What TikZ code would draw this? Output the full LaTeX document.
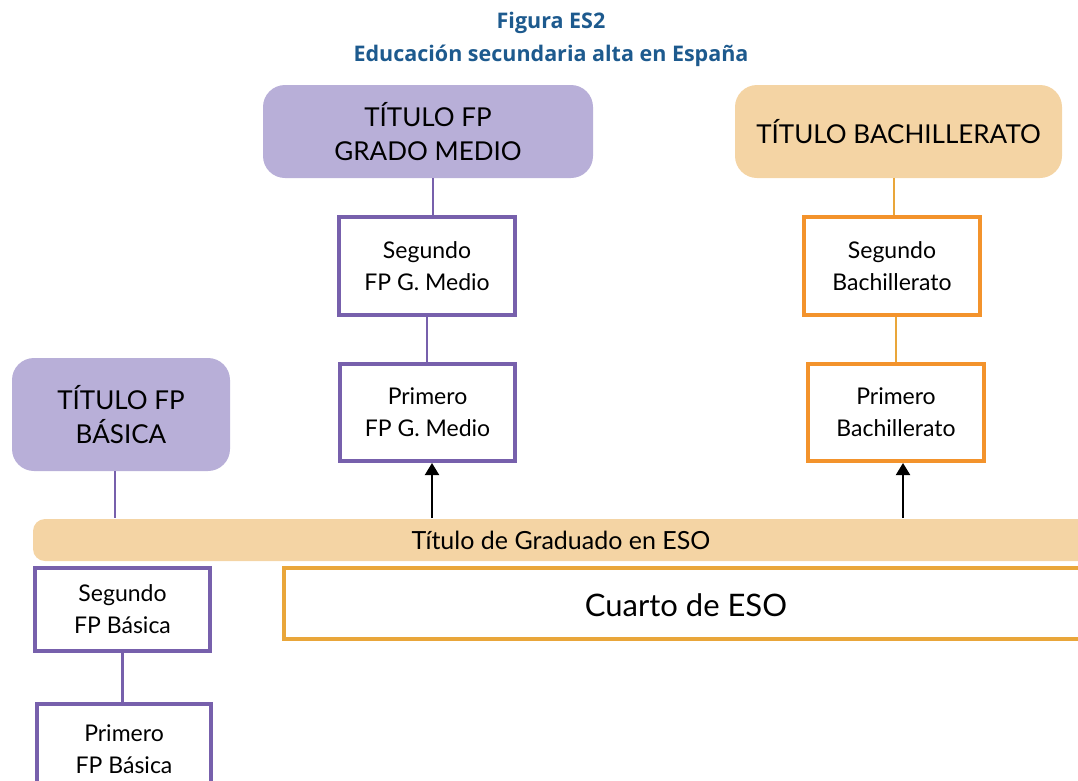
\documentclass[tikz,border=0pt]{standalone}
\usepackage{fontspec}
\setmainfont{Lato}
\newfontfamily\titlefont{Open Sans}
\usetikzlibrary{arrows.meta}
\definecolor{lav}{HTML}{B8AFD8}
\definecolor{purp}{HTML}{7760AC}
\definecolor{tan}{HTML}{F4D4A4}
\definecolor{orng}{HTML}{F3932C}
\definecolor{orng2}{HTML}{E9A63A}
\definecolor{ttlblue}{HTML}{1D5A8E}
\tikzset{
  x=1pt, y=-1pt,
  titlebox/.style={rounded corners=22pt, inner sep=0pt, align=center, font=\fontsize{26}{34}\selectfont},
  pbox/.style={draw=purp, line width=4pt, fill=white, inner sep=0pt, align=center, font=\fontsize{23}{32}\selectfont},
  obox/.style={draw=orng, line width=4pt, fill=white, inner sep=0pt, align=center, font=\fontsize{23}{32}\selectfont},
  pline/.style={draw=purp, line width=2.5pt},
  oline/.style={draw=orng2, line width=2pt},
  uparrow/.style={draw=black, line width=2pt, -{Triangle[length=12pt,width=14pt]}},
}
\begin{document}
\begin{tikzpicture}
\useasboundingbox (0,0) rectangle (1078,780);
\clip (0,0) rectangle (1078,780);
% title
\node[font=\titlefont\bfseries\fontsize{21.5}{33}\selectfont, text=ttlblue, align=center] (title) at (551,39) {Figura ES2\\Educación secundaria alta en España};
% top title boxes
\node[titlebox, fill=lav, minimum width=330pt, minimum height=93pt] (tgm) at (428,131.5) {TÍTULO FP\\GRADO MEDIO};
\node[titlebox, fill=tan, minimum width=327pt, minimum height=93pt] (tbach) at (898.5,131.5) {TÍTULO BACHILLERATO};
\node[titlebox, fill=lav, minimum width=218pt, minimum height=113pt] (tbas) at (121,414.5) {TÍTULO FP\\BÁSICA};
% FP grado medio
\node[pbox, minimum width=176pt, minimum height=98pt] (sgm) at (427,266) {Segundo\\FP G. Medio};
\node[pbox, minimum width=175pt, minimum height=97pt] (pgm) at (427.5,412.5) {Primero\\FP G. Medio};
% Bachillerato
\node[obox, minimum width=176pt, minimum height=98pt] (sb) at (892,266) {Segundo\\Bachillerato};
\node[obox, minimum width=176pt, minimum height=97pt] (pb) at (896,412.5) {Primero\\Bachillerato};
% ESO bar
\fill[tan, rounded corners=12pt] (33,519) rectangle (1110,561);
\node[inner sep=0pt, font=\fontsize{25}{28}\selectfont] (eso) at (561,540) {Título de Graduado en ESO};
\coordinate (esoA) at (432,518);
\coordinate (esoB) at (903,518);
\coordinate (esoC) at (115,518);
\coordinate (gmx) at (433,0);
\coordinate (bx) at (894,0);
% FP Basica
\node[pbox, minimum width=175pt, minimum height=83pt] (sfb) at (122.5,609.5) {Segundo\\FP Básica};
\node[pbox, minimum width=174pt, minimum height=90pt] (pfb) at (124,749) {Primero\\FP Básica};
% Cuarto de ESO
\draw[orng2, line width=4pt, fill=white] (284,568) rectangle (1110,639);
\node[inner sep=0pt, font=\fontsize{31}{34}\selectfont] (cuarto) at (686,605) {Cuarto de ESO};
% connectors
\draw[pline] (tgm.south -| gmx) -- (sgm.north -| gmx);
\draw[pline] (sgm.south) -- (pgm.north -| sgm.south);
\draw[oline] (tbach.south -| bx) -- (sb.north -| bx);
\draw[oline] (sb.south -| pb.north) -- (pb.north);
\draw[pline] (tbas.south -| esoC) -- (esoC);
\draw[pline] (sfb.south) -- (pfb.north -| sfb.south);
\draw[uparrow] (esoA) -- (pgm.south -| esoA);
\draw[uparrow] (esoB) -- (pb.south -| esoB);
\end{tikzpicture}
\end{document}
